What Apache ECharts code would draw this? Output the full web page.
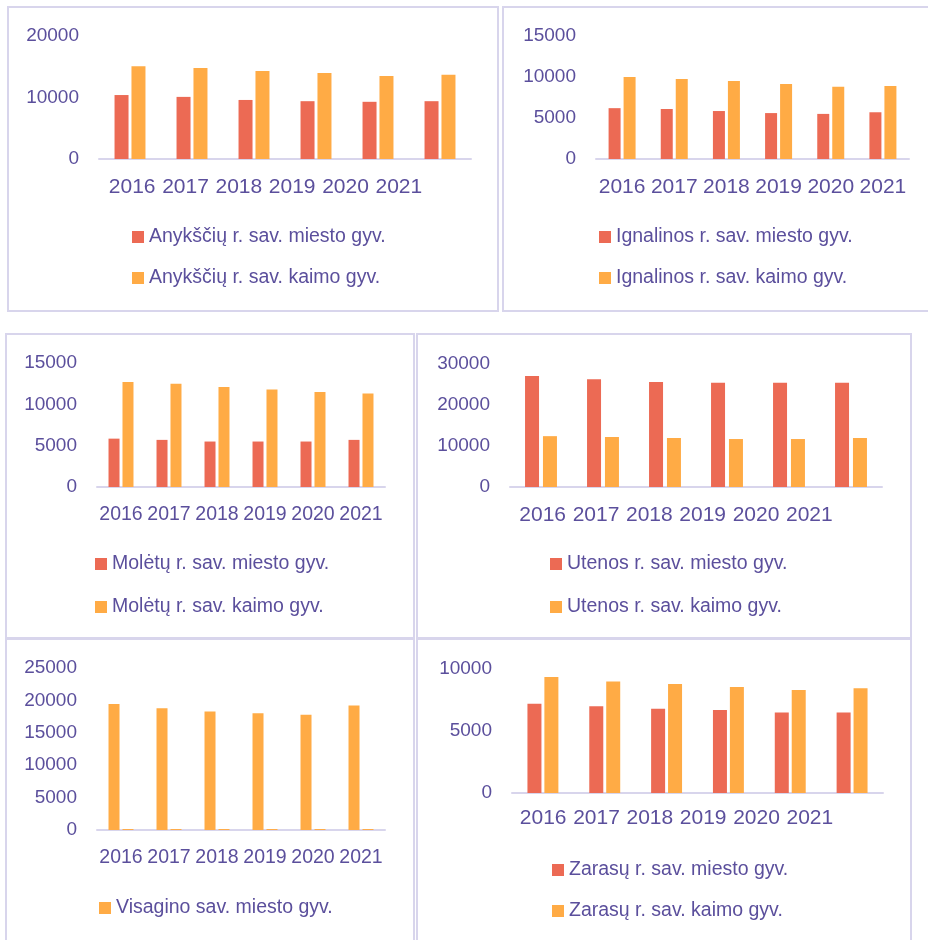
<!DOCTYPE html>
<html>
<head>
<meta charset="utf-8">
<script src="https://cdn.jsdelivr.net/npm/echarts@6/dist/echarts.min.js"></script>
<style>
html,body{margin:0;padding:0;background:#fff;}
#c{width:928px;height:940px;}
</style>
</head>
<body>
<div id="c"></div>
<script>
// ---- data ----
const years = ['2016', '2017', '2018', '2019', '2020', '2021'];

const anyksciaiNames = ['Anykščių r. sav. miesto gyv.', 'Anykščių r. sav. kaimo gyv.'];
const anyksciaiMiesto = [10400, 10100, 9600, 9400, 9300, 9400];
const anyksciaiKaimo = [15100, 14800, 14300, 14000, 13500, 13700];
const anyksciaiTicks = [0, 10000, 20000];

const ignalinaNames = ['Ignalinos r. sav. miesto gyv.', 'Ignalinos r. sav. kaimo gyv.'];
const ignalinaMiesto = [6200, 6100, 5850, 5600, 5500, 5700];
const ignalinaKaimo = [10000, 9750, 9500, 9150, 8800, 8900];
const ignalinaTicks = [0, 5000, 10000, 15000];

const moletaiNames = ['Molėtų r. sav. miesto gyv.', 'Molėtų r. sav. kaimo gyv.'];
const moletaiMiesto = [5850, 5700, 5500, 5500, 5500, 5700];
const moletaiKaimo = [12700, 12500, 12100, 11800, 11500, 11300];
const moletaiTicks = [0, 5000, 10000, 15000];

const utenaNames = ['Utenos r. sav. miesto gyv.', 'Utenos r. sav. kaimo gyv.'];
const utenaMiesto = [27100, 26300, 25600, 25400, 25400, 25400];
const utenaKaimo = [12400, 12200, 11950, 11700, 11700, 11950];
const utenaTicks = [0, 10000, 20000, 30000];

const visaginasNames = ['Visagino sav. miesto gyv.', 'Visagino sav. kaimo gyv.'];
const visaginasMiesto = [19450, 18800, 18300, 18000, 17800, 19200];
const visaginasKaimo = [150, 150, 150, 150, 150, 150];
const visaginasTicks = [0, 5000, 10000, 15000, 20000, 25000];

const zarasaiNames = ['Zarasų r. sav. miesto gyv.', 'Zarasų r. sav. kaimo gyv.'];
const zarasaiMiesto = [7200, 7000, 6800, 6700, 6500, 6500];
const zarasaiKaimo = [9350, 9000, 8800, 8550, 8300, 8450];
const zarasaiTicks = [0, 5000, 10000];

// ---- style ----
const RED = '#EC6A54';
const ORANGE = '#FFAB45';
const TXT = '#5B4F9C';
const LINE = '#D8D5EC';
const FONT = '"Liberation Sans", Arial, sans-serif';

// panel layout
const panels = [
  {names: anyksciaiNames, a: anyksciaiMiesto, b: anyksciaiKaimo, ticks: anyksciaiTicks, colors: [RED, ORANGE],
   grid: {left: 99, top: 36, width: 372, height: 123}, bw: 14, gap: '21%', lab: {left: 105.5, width: 320}, xfs: 21, xm: 18,
   legend: {left: 132, top: 227, gap: 21}, legendNames: anyksciaiNames},
  {names: ignalinaNames, a: ignalinaMiesto, b: ignalinaKaimo, ticks: ignalinaTicks, colors: [RED, ORANGE],
   grid: {left: 596, top: 36, width: 313, height: 123}, bw: 12, gap: '25%', lab: null, xfs: 21, xm: 18,
   legend: {left: 599, top: 227, gap: 21}, legendNames: ignalinaNames},
  {names: moletaiNames, a: moletaiMiesto, b: moletaiKaimo, ticks: moletaiTicks, colors: [RED, ORANGE],
   grid: {left: 97, top: 363, width: 288, height: 124}, bw: 11, gap: '27%', lab: null, xfs: 19.5, xm: 18,
   legend: {left: 95, top: 554, gap: 23}, legendNames: moletaiNames},
  {names: utenaNames, a: utenaMiesto, b: utenaKaimo, ticks: utenaTicks, colors: [RED, ORANGE],
   grid: {left: 510, top: 364, width: 372, height: 123}, bw: 14, gap: '28%', lab: {left: 516, width: 320}, xfs: 21, xm: 18,
   legend: {left: 550, top: 554, gap: 23}, legendNames: utenaNames},
  {names: visaginasNames, a: visaginasMiesto, b: visaginasKaimo, ticks: visaginasTicks, colors: [ORANGE, ORANGE],
   grid: {left: 97, top: 668, width: 288, height: 162}, bw: 11, gap: '27%', lab: null, xfs: 19.5, xm: 18,
   legend: {left: 99, top: 898, gap: 21}, legendNames: [visaginasNames[0]]},
  {names: zarasaiNames, a: zarasaiMiesto, b: zarasaiKaimo, ticks: zarasaiTicks, colors: [RED, ORANGE],
   grid: {left: 512, top: 669, width: 371, height: 124}, bw: 14, gap: '21%', lab: {left: 516.5, width: 320}, xfs: 21, xm: 15,
   legend: {left: 552, top: 860, gap: 21}, legendNames: zarasaiNames}
];

const grid = [], xAxis = [], yAxis = [], series = [], legend = [];

panels.forEach((p, i) => {
  const gi = grid.length;
  grid.push(Object.assign({containLabel: false}, p.grid));
  const t = p.ticks;
  xAxis.push({
    type: 'category', gridIndex: gi, data: years,
    axisLine: {show: true, lineStyle: {color: LINE, width: 2}},
    axisTick: {show: false},
    axisLabel: {show: !p.lab, color: TXT, fontFamily: FONT, fontSize: p.xfs, margin: p.xm, interval: 0}
  });
  yAxis.push({
    type: 'value', gridIndex: gi, min: t[0], max: t[t.length - 1], interval: t[1] - t[0],
    axisLine: {show: false}, axisTick: {show: false}, splitLine: {show: false},
    axisLabel: {color: TXT, fontFamily: FONT, fontSize: 19, margin: 20, formatter: v => String(v)}
  });
  series.push({
    type: 'bar', name: p.names[0], xAxisIndex: gi, yAxisIndex: gi, data: p.a,
    barWidth: p.bw, barGap: p.gap, itemStyle: {color: p.colors[0]}
  });
  series.push({
    type: 'bar', name: p.names[1], xAxisIndex: gi, yAxisIndex: gi, data: p.b,
    barWidth: p.bw, barGap: p.gap, itemStyle: {color: p.colors[1]}
  });
  legend.push({
    orient: 'vertical', left: p.legend.left, top: p.legend.top, padding: 0,
    data: p.legendNames, itemWidth: 12, itemHeight: 12, itemGap: p.legend.gap,
    icon: 'rect', selectedMode: false,
    textStyle: {color: TXT, fontFamily: FONT, fontSize: 19.5, lineHeight: 20}
  });
  if (p.lab) {
    const li = grid.length;
    grid.push({left: p.lab.left, width: p.lab.width, top: p.grid.top, height: p.grid.height});
    xAxis.push({
      type: 'category', gridIndex: li, data: years,
      axisLine: {show: false}, axisTick: {show: false},
      axisLabel: {color: TXT, fontFamily: FONT, fontSize: p.xfs, margin: p.xm, interval: 0}
    });
    yAxis.push({type: 'value', gridIndex: li, show: false, min: 0, max: 1});
  }
});

const border = (x, y, w, h) => ({
  type: 'rect', shape: {x: x, y: y, width: w, height: h},
  style: {fill: null, stroke: LINE, lineWidth: 2}, silent: true
});

const chart = echarts.init(document.getElementById('c'), null, {renderer: 'canvas'});
chart.setOption({
  animation: false,
  backgroundColor: '#fff',
  textStyle: {fontFamily: FONT},
  graphic: [
    border(8, 7, 490, 304),
    border(503, 7, 440, 304),
    border(6, 334, 408, 304),
    border(417, 334, 494, 304),
    border(6, 639, 408, 320),
    border(417, 639, 494, 320)
  ],
  grid: grid, xAxis: xAxis, yAxis: yAxis, series: series, legend: legend
});
</script>
</body>
</html>
